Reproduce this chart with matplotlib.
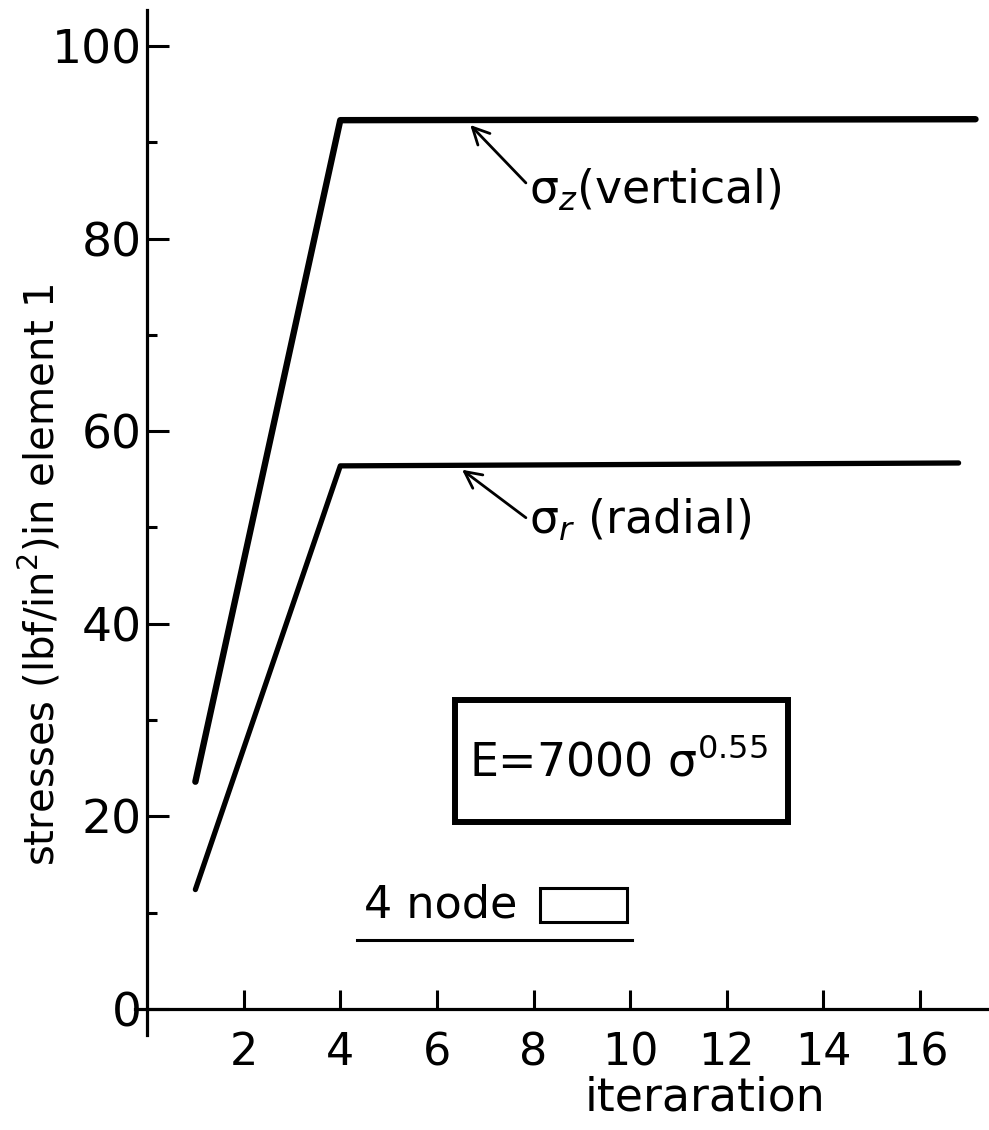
import matplotlib
matplotlib.use("Agg")
import matplotlib.pyplot as plt
from matplotlib.patches import Rectangle
from matplotlib.ticker import MultipleLocator

plt.rcParams['font.family'] = ['DejaVu Sans']
plt.rcParams['mathtext.fontset'] = 'dejavusans'

# Data
iter_vertical = [1, 4, 17.15]
stress_vertical = [23.6, 92.3, 92.4]
iter_radial = [1, 4, 16.8]
stress_radial = [12.4, 56.4, 56.7]
xticks = [2, 4, 6, 8, 10, 12, 14, 16]
yticks = [0, 20, 40, 60, 80, 100]

fig = plt.figure(figsize=(9.89, 11.30), dpi=100)
ax = fig.add_axes([0.1365, 0.0841, 0.8645, 0.9067])
ax.set_xlim(-0.25, 17.45)
ax.set_ylim(-2.7, 103.7)

for s in ['top', 'right']:
    ax.spines[s].set_visible(False)
ax.spines['left'].set_position(('data', 0))
ax.spines['bottom'].set_position(('data', 0))
for s in ['left', 'bottom']:
    ax.spines[s].set_linewidth(2.3)

ax.plot(iter_vertical, stress_vertical, color='black', lw=4.6, solid_capstyle='round', solid_joinstyle='round')
ax.plot(iter_radial, stress_radial, color='black', lw=3.8, solid_capstyle='round', solid_joinstyle='round')

ax.set_xticks(xticks)
ax.set_xticklabels([str(t) for t in xticks])
ax.set_yticks(yticks)
ax.set_yticklabels([str(t) for t in yticks])
ax.yaxis.set_minor_locator(MultipleLocator(10))
ax.tick_params(axis='x', direction='in', length=14, width=2.2, pad=16, labelsize=32)
ax.tick_params(axis='y', direction='in', length=16, width=2.2, pad=4, labelsize=34)
ax.tick_params(axis='y', which='minor', direction='in', length=7, width=2.2)
ax.tick_params(axis='x', which='minor', length=0)

# annotations
ax.annotate('σ$_{z}$(vertical)', xy=(6.69, 91.8), xytext=(7.9, 85.0),
            fontsize=33, va='center', ha='left',
            arrowprops=dict(arrowstyle='->', lw=2.0, color='black', mutation_scale=30,
                            shrinkA=0, shrinkB=0, relpos=(0, 0.6)))
ax.annotate('σ$_{r}$ (radial)', xy=(6.52, 56.0), xytext=(7.9, 50.8),
            fontsize=33, va='center', ha='left',
            arrowprops=dict(arrowstyle='->', lw=2.0, color='black', mutation_scale=30,
                            shrinkA=0, shrinkB=0, relpos=(0, 0.5)))

# E box
ax.add_patch(Rectangle((6.38, 19.4), 13.27 - 6.38, 32.1 - 19.4, fill=False, lw=4.3, ec='black'))
ax.text(9.75, 25.6, 'E=7000 σ$^{0.55}$', fontsize=33, ha='center', va='center')

# 4 node
ax.text(4.5, 10.8, '4 node', fontsize=32, ha='left', va='center')
ax.add_patch(Rectangle((8.14, 9.03), 9.94 - 8.14, 12.56 - 9.03, fill=False, lw=2.2, ec='black'))
ax.plot([4.35, 10.04], [7.17, 7.17], color='black', lw=2.2)

# axis labels
ax.text(11.55, -10.5, 'iteraration', fontsize=33, ha='center', va='baseline', clip_on=False)
fig.text(40 / 989, 1 - 575 / 1130, r'stresses (lbf/in$^2$)in element 1', fontsize=29,
         rotation=90, ha='center', va='center')

fig.savefig('out.png', dpi=100)
